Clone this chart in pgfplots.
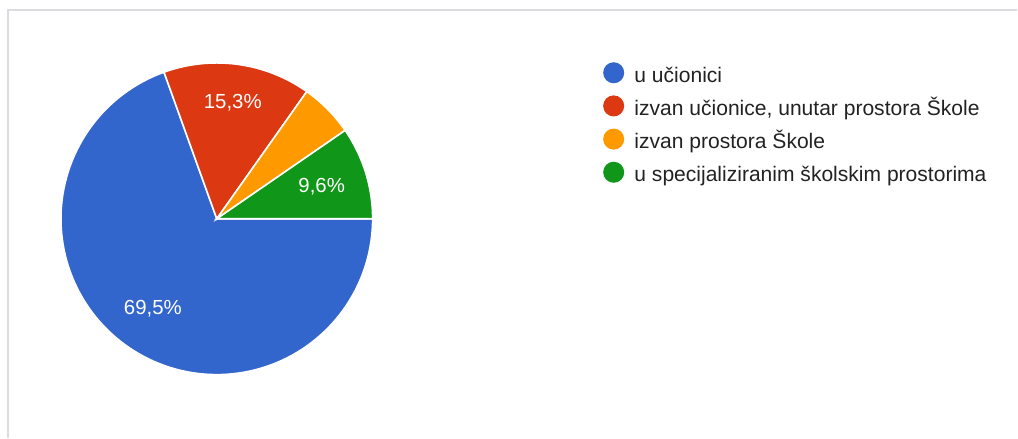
\documentclass[border=0pt]{standalone}
\usepackage{pgfplots}
\pgfplotsset{compat=1.18}
\usepackage{fontspec}
\setmainfont{Liberation Sans}
\definecolor{gblue}{HTML}{3366CC}
\definecolor{gred}{HTML}{DC3912}
\definecolor{gorange}{HTML}{FF9900}
\definecolor{ggreen}{HTML}{109618}
\definecolor{gtext}{HTML}{222222}
\definecolor{gborder}{HTML}{DADCE0}
% slice shares in percent
\def\pA{69.5}% u ucionici
\def\pB{15.3}% izvan ucionice, unutar prostora Skole
\def\pC{5.6}%  izvan prostora Skole
\def\pD{9.6}%  u specijaliziranim skolskim prostorima
\def\cx{217}\def\cy{219}\def\rr{156}
\begin{document}
\begin{tikzpicture}
\begin{axis}[
  scale only axis, width=763.5pt, height=328.5pt,
  xmin=0, xmax=1018, ymin=0, ymax=438, y dir=reverse,
  hide axis, clip=false,
  legend cell align=left,
  legend style={at={(axis description cs:0.5928,0.8584)}, anchor=north west,
    draw=none, fill=none, font=\fontsize{15.8}{18}\selectfont\color{gtext},
    row sep=7pt, inner sep=0pt,
    nodes={inner sep=0pt, text height=11pt, text depth=3pt}},
  legend image code/.code={\fill[#1,draw=none] (0pt,0.3em) circle (7.9pt);
    \path (15pt,0.3em);},
]
\path (axis cs:0,0) rectangle (axis cs:1018,438);
\draw[gborder, line width=1.5pt] (axis cs:8,438) -- (axis cs:8,10) -- (axis cs:1018,10);
\addplot[fill=gblue, draw=white, line width=1.2pt, domain={360-3.6*\pA}:360, samples=120]
  ({\cx+\rr*cos(x)},{\cy-\rr*sin(x)}) -- (axis cs:\cx,\cy) -- cycle;
\addlegendentry{u učionici}
\addplot[fill=gred, draw=white, line width=1.2pt, domain={3.6*(\pD+\pC)}:{3.6*(\pD+\pC+\pB)}, samples=40]
  ({\cx+\rr*cos(x)},{\cy-\rr*sin(x)}) -- (axis cs:\cx,\cy) -- cycle;
\addlegendentry{izvan učionice, unutar prostora Škole}
\addplot[fill=gorange, draw=white, line width=1.2pt, domain={3.6*\pD}:{3.6*(\pD+\pC)}, samples=20]
  ({\cx+\rr*cos(x)},{\cy-\rr*sin(x)}) -- (axis cs:\cx,\cy) -- cycle;
\addlegendentry{izvan prostora Škole}
\addplot[fill=ggreen, draw=white, line width=1.2pt, domain=0:{3.6*\pD}, samples=30]
  ({\cx+\rr*cos(x)},{\cy-\rr*sin(x)}) -- (axis cs:\cx,\cy) -- cycle;
\addlegendentry{u specijaliziranim školskim prostorima}
\node[white, font=\fontsize{15.3}{17}\selectfont] at (axis cs:153,309) {69,5\%};
\node[white, font=\fontsize{15.3}{17}\selectfont] at (axis cs:233,102.5) {15,3\%};
\node[white, font=\fontsize{15.3}{17}\selectfont] at (axis cs:322,186.5) {9,6\%};
\end{axis}
\end{tikzpicture}
\end{document}
